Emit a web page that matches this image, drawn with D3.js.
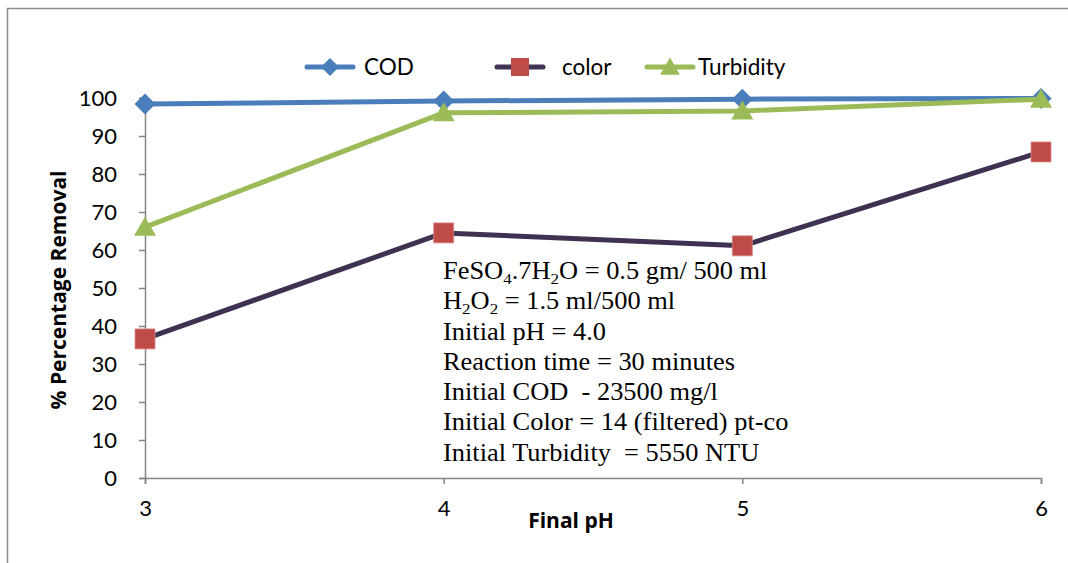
<!DOCTYPE html>
<html>
<head>
<meta charset="utf-8">
<script src="https://cdn.jsdelivr.net/npm/d3@7"></script>
<style>
  html, body { margin: 0; padding: 0; background: #fff; }
  svg { display: block; }
</style>
</head>
<body>
<div class="chart"></div>
<script>
(function () {
    'use strict';

    /* data */
    const finalPH = [3, 4, 5, 6];
    const codRemoval = [98.4, 99.2, 99.7, 99.9];
    const colorRemoval = [36.6, 64.5, 61.1, 85.8];
    const turbidityRemoval = [66.0, 96.1, 96.6, 99.7];
    const yTicks = d3.range(0, 101, 10);
    /* text box lines, [text, subscript?] */
    const notes = [
        [['FeSO', 0], ['4', 1], ['.7H', 0], ['2', 1], ['O = 0.5 gm/ 500 ml', 0]],
        [['H', 0], ['2', 1], ['O', 0], ['2', 1], [' = 1.5 ml/500 ml', 0]],
        [['Initial pH = 4.0', 0]],
        [['Reaction time = 30 minutes', 0]],
        [['Initial COD \u00a0- 23500 mg/l', 0]],
        [['Initial Color = 14 (filtered) pt-co', 0]],
        [['Initial Turbidity \u00a0= 5550 NTU', 0]]
    ];

    const series = [
        { name: 'COD', values: codRemoval, line: '#4a7ebb', fill: '#4a7ebb', marker: 'diamond', lx: 307, tx: 364 },
        { name: 'color', values: colorRemoval, line: '#3f3151', fill: '#be4b48', marker: 'square', lx: 497, tx: 562 },
        { name: 'Turbidity', values: turbidityRemoval, line: '#9bbb59', fill: '#9bbb59', marker: 'triangle', lx: 647, tx: 698 }
    ];

    const width = 1068, height = 563;
    const svg = d3.select('.chart').append('svg')
        .attr('width', width).attr('height', height);

    /* outer frame (right and bottom fall outside the picture) */
    svg.append('rect')
        .attr('x', 7.5).attr('y', 8.5)
        .attr('width', 1100).attr('height', 600)
        .attr('fill', 'none').attr('stroke', '#8c8c8c').attr('stroke-width', 1.5);

    const x = d3.scaleLinear().domain([3, 6]).range([145, 1041]);
    const y = d3.scaleLinear().domain([0, 100]).range([478, 98]);
    const axisColor = '#868686';

    /* y axis */
    const yAxis = svg.append('g')
        .attr('transform', 'translate(' + x(3) + ',0)')
        .call(d3.axisLeft(y).tickValues(yTicks).tickSize(6).tickPadding(22).tickFormat(d3.format('d')));
    yAxis.select('.domain').attr('stroke', axisColor).attr('stroke-width', 1.5);
    yAxis.selectAll('.tick line').attr('stroke', axisColor).attr('stroke-width', 1.5);
    yAxis.selectAll('.tick text')
        .style('font-family', 'Lato, sans-serif').style('font-size', '22px').attr('fill', '#000');

    /* x axis */
    const xAxis = svg.append('g')
        .attr('transform', 'translate(0,' + y(0) + ')')
        .call(d3.axisBottom(x).tickValues(finalPH).tickSize(6).tickPadding(16).tickFormat(d3.format('d')));
    xAxis.select('.domain').attr('stroke', axisColor).attr('stroke-width', 1.5);
    xAxis.selectAll('.tick line').attr('stroke', axisColor).attr('stroke-width', 1.5);
    xAxis.selectAll('.tick text')
        .style('font-family', 'Lato, sans-serif').style('font-size', '22px').attr('fill', '#000');

    /* axis titles */
    svg.append('text').text('Final pH')
        .attr('x', 571).attr('y', 528)
        .attr('text-anchor', 'middle')
        .style('font-family', '"Open Sans", sans-serif').style('font-size', '21px').style('font-weight', 700);
    svg.append('text').text('% Percentage Removal')
        .attr('transform', 'translate(66,290) rotate(-90)')
        .attr('text-anchor', 'middle')
        .style('font-family', '"Open Sans", sans-serif').style('font-size', '21px').style('font-weight', 700);

    /* marker shapes */
    function markerPath(kind, s) {
        if (kind === 'diamond') {
            return 'M0,' + (-s) + 'L' + s + ',0L0,' + s + 'L' + (-s) + ',0Z';
        }
        if (kind === 'square') {
            return 'M' + (-s) + ',' + (-s) + 'h' + 2 * s + 'v' + 2 * s + 'h' + (-2 * s) + 'Z';
        }
        return 'M0,' + (-s * 1.05) + 'L' + s * 1.1 + ',' + s * 0.85 + 'L' + (-s * 1.1) + ',' + s * 0.85 + 'Z';
    }

    const line = d3.line()
        .x(function (d, i) { return x(finalPH[i]); })
        .y(function (d) { return y(d); });

    series.forEach(function (s) {
        const g = svg.append('g').attr('class', 'series');
        g.append('path')
            .attr('d', line(s.values))
            .attr('fill', 'none')
            .attr('stroke', s.line)
            .attr('stroke-width', 5)
            .attr('stroke-linejoin', 'round');
        g.selectAll('.mk').data(s.values).enter().append('path')
            .attr('class', 'mk')
            .attr('transform', function (d, i) { return 'translate(' + x(finalPH[i]) + ',' + y(d) + ')'; })
            .attr('d', markerPath(s.marker, s.marker === 'diamond' ? 10.5 : 10))
            .attr('fill', s.fill)
            .attr('stroke', s.marker === 'square' ? '#d98a88' : 'none')
            .attr('stroke-width', 0.8);
    });

    /* legend */
    const legendY = 67;
    const legend = svg.append('g').attr('class', 'legend');
    series.forEach(function (s) {
        const item = legend.append('g');
        item.append('line')
            .attr('x1', s.lx).attr('x2', s.lx + 46)
            .attr('y1', legendY).attr('y2', legendY)
            .attr('stroke', s.line).attr('stroke-width', 5).attr('stroke-linecap', 'round');
        item.append('path')
            .attr('transform', 'translate(' + (s.lx + 23) + ',' + legendY + ')')
            .attr('d', markerPath(s.marker, 9))
            .attr('fill', s.fill);
        item.append('text').text(s.name)
            .attr('x', s.tx)
            .attr('y', legendY).attr('dy', '0.36em')
            .style('font-family', 'Lato, sans-serif').style('font-size', '22.5px');
    });

    /* experimental conditions text box */
    const note = svg.append('g')
        .style('font-family', '"Liberation Serif", "Times New Roman", serif')
        .style('font-size', '26.4px');
    notes.forEach(function (parts, i) {
        const by = 279 + i * 30.3;
        const t = note.append('text')
            .attr('x', 443).attr('y', by)
            .attr('transform', 'translate(443,' + by + ') scale(1,0.92) translate(-443,' + (-by) + ')');
        parts.forEach(function (p) {
            const ts = t.append('tspan').text(p[0]);
            if (p[1]) {
                ts.style('font-size', '17px').attr('baseline-shift', '-5');
            }
        });
    });
}());
</script>
</body>
</html>
